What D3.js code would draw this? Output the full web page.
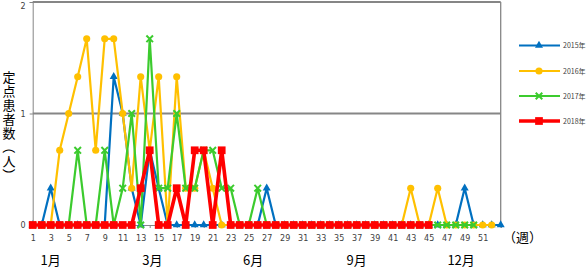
<!DOCTYPE html>
<html lang="ja">
<head>
<meta charset="UTF-8">
<script src="https://d3js.org/d3.v7.min.js"></script>
<title>定点患者数</title>
<style>
  body { margin: 0; background: #fff; }
  svg { display: block; font-family: "Noto Sans CJK JP", "Noto Sans", sans-serif; }
</style>
</head>
<body>
<svg width="587" height="267"></svg>
<script>
// weekly values per sentinel site
const weeks = d3.range(1, 54);
const tickWeeks = d3.range(1, 52, 2);
const yTicks = [0, 1, 2];
const monthLabels = ['1月', '3月', '6月', '9月', '12月'];
const seriesNames = ['2015年', '2016年', '2017年', '2018年'];
const yTitle = '定点患者数（人）';

const v2015 = [
  0, 0, 0.33, 0, 0, 0, 0, 0, 0, 1.33,
  1, 0.33, 0, 0.67, 0.33, 0, 0, 0, 0, 0,
  0, 0, 0, 0, 0, 0, 0.33, 0, 0, 0,
  0, 0, 0, 0, 0, 0, 0, 0, 0, 0,
  0, 0, 0, 0, 0, 0, 0, 0, 0.33, 0,
  0, 0, 0
];
const v2016 = [
  0, 0, 0, 0.67, 1, 1.33, 1.67, 0.67, 1.67, 1.67,
  1, 0.33, 1.33, 0.67, 1.33, 0, 1.33, 0.33, 0.33, 0.67,
  0.33, 0, 0, 0, 0, 0, 0, 0, 0, 0,
  0, 0, 0, 0, 0, 0, 0, 0, 0, 0,
  0, 0, 0.33, 0, 0, 0.33, 0, 0, 0, 0,
  0, 0
];
const v2017 = [
  0, 0, 0, 0, 0, 0.67, 0, 0, 0.67, 0,
  0.33, 1, 0, 1.67, 0.33, 0.33, 1, 0.33, 0.33, 0.67,
  0.67, 0.33, 0.33, 0, 0, 0.33, 0, 0, 0, 0,
  0, 0, 0, 0, 0, 0, 0, 0, 0, 0,
  0, 0, 0, 0, 0, 0, 0, 0, 0, 0
];
const v2018 = [
  0, 0, 0, 0, 0, 0, 0, 0, 0, 0,
  0, 0, 0.33, 0.67, 0, 0, 0.33, 0, 0.67, 0.67,
  0, 0.67, 0, 0, 0, 0, 0, 0, 0, 0,
  0, 0, 0, 0, 0, 0, 0, 0, 0, 0,
  0, 0, 0, 0, 0
];

const seriesValues = [v2015, v2016, v2017, v2018];
const styles = [
  {color: '#0070C0', width: 2.2, symbol: d3.symbolTriangle, size: 28, stroke: false},
  {color: '#FFC000', width: 2.2, symbol: d3.symbolCircle, size: 40, stroke: false},
  {color: '#3CCB2E', width: 2.2, symbol: d3.symbolTimes, size: 30, stroke: true},
  {color: '#FF0000', width: 3.6, symbol: d3.symbolSquare, size: 60, stroke: false}
];

const svg = d3.select('svg');
const x = d3.scaleLinear().domain([1, 53]).range([32.7, 500.7]);
const y = d3.scaleLinear().domain([0, 2]).range([225, 2]);

// gridlines
svg.append('g')
  .selectAll('line')
  .data(yTicks.filter(d => d > 0))
  .enter().append('line')
  .attr('x1', x(1)).attr('x2', x(53))
  .attr('y1', d => y(d)).attr('y2', d => y(d))
  .attr('stroke', '#868686').attr('stroke-width', 1.8);

// right border
svg.append('line')
  .attr('x1', x(53)).attr('x2', x(53))
  .attr('y1', y(2)).attr('y2', y(0))
  .attr('stroke', '#868686').attr('stroke-width', 1.3);

// y axis
const yAxis = d3.axisLeft(y).tickValues(yTicks).tickSize(3).tickPadding(4)
  .tickFormat(d3.format('d'));
const yg = svg.append('g').attr('transform', `translate(${x(1)},0)`).call(yAxis);
yg.select('.domain').attr('stroke', '#868686');
yg.selectAll('.tick line').attr('stroke', '#868686');
yg.selectAll('.tick text').attr('fill', '#404040').style('font-size', '8px')
  .style('font-family', '"DejaVu Sans", sans-serif')
  .attr('dy', d => d === 2 ? '0.75em' : '0.32em');

// x axis
const xAxis = d3.axisBottom(x).tickValues(weeks).tickSize(3).tickPadding(7)
  .tickFormat(d => tickWeeks.includes(d) ? d : '');
const xg = svg.append('g').attr('transform', `translate(0,${y(0)})`).call(xAxis);
xg.select('.domain').attr('stroke', '#868686');
xg.selectAll('.tick line').attr('stroke', '#868686');
xg.selectAll('.tick text').attr('fill', '#404040').style('font-size', '8px')
  .style('font-family', '"DejaVu Sans", sans-serif');

svg.append('text')
  .attr('x', 503).attr('y', 242)
  .style('font-size', '13px').attr('fill', '#000')
  .text('（週）');

// month labels under the weeks
const monthWeek = [3.0, 14.3, 25.5, 37.0, 48.6];
svg.append('g')
  .selectAll('text')
  .data(monthLabels)
  .enter().append('text')
  .attr('x', (d, i) => x(monthWeek[i]))
  .attr('y', 264.5)
  .attr('text-anchor', 'middle')
  .style('font-size', '13px')
  .text(d => d);

// y title, one character per row; brackets turned for vertical text
const titleChars = Array.from(yTitle);
svg.append('g')
  .selectAll('text')
  .data(titleChars)
  .enter().append('text')
  .attr('text-anchor', 'middle')
  .attr('dy', '0.36em')
  .attr('transform', (d, i) => {
    const cy = 77 + i * 14;
    return (d === '（' || d === '）')
      ? `translate(9,${cy}) rotate(90)` : `translate(9,${cy})`;
  })
  .style('font-size', '13px')
  .text(d => d);

// series
const line = d3.line().x((d, i) => x(weeks[i])).y(d => y(d));
seriesValues.forEach((vals, s) => {
  const st = styles[s];
  const g = svg.append('g');
  g.append('path')
    .attr('d', line(vals))
    .attr('fill', 'none')
    .attr('stroke', st.color)
    .attr('stroke-width', st.width)
    .attr('stroke-linejoin', 'round');
  g.selectAll('path.m')
    .data(vals)
    .enter().append('path')
    .attr('class', 'm')
    .attr('transform', (d, i) => `translate(${x(weeks[i])},${y(d)})`)
    .attr('d', d3.symbol().type(st.symbol).size(st.size))
    .attr('fill', st.stroke ? 'none' : st.color)
    .attr('stroke', st.stroke ? st.color : 'none')
    .attr('stroke-width', st.stroke ? 2 : 0);
});

// legend
const legendY = [45.5, 71, 96, 121];
const lg = svg.append('g');
seriesNames.forEach((name, s) => {
  const st = styles[s];
  lg.append('line')
    .attr('x1', 519).attr('x2', 560)
    .attr('y1', legendY[s]).attr('y2', legendY[s])
    .attr('stroke', st.color).attr('stroke-width', st.width);
  lg.append('path')
    .attr('transform', `translate(539,${legendY[s]})`)
    .attr('d', d3.symbol().type(st.symbol).size(st.size))
    .attr('fill', st.stroke ? 'none' : st.color)
    .attr('stroke', st.stroke ? st.color : 'none')
    .attr('stroke-width', st.stroke ? 2 : 0);
  lg.append('text')
    .attr('x', 563).attr('y', legendY[s] + 2.5)
    .style('font-size', '7px').attr('fill', '#404040')
    .text(name);
});
</script>
</body>
</html>
